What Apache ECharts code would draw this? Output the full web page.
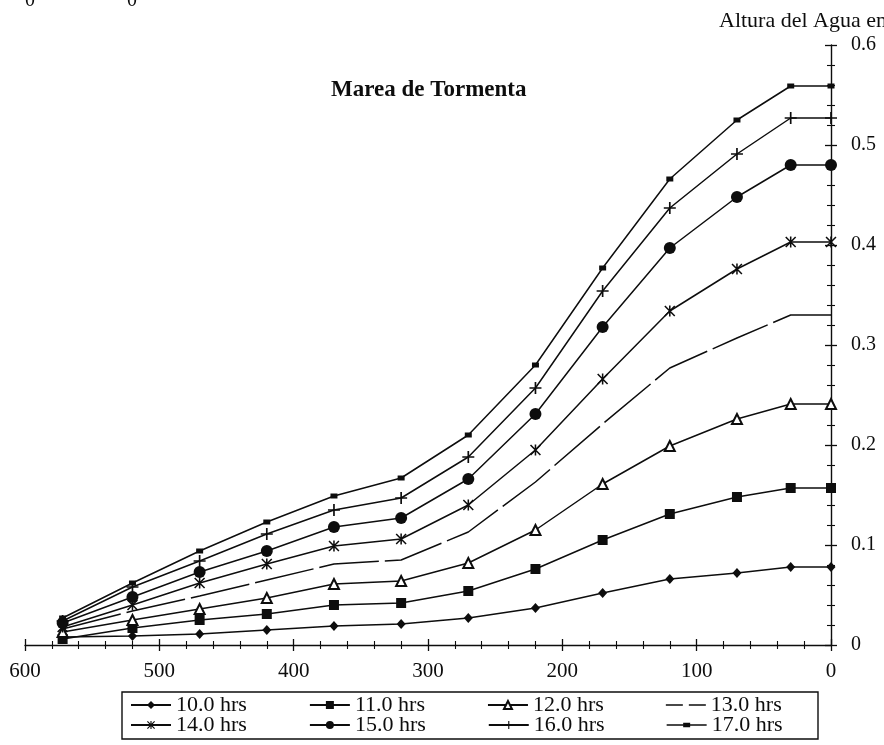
<!DOCTYPE html>
<html>
<head>
<meta charset="utf-8">
<script src="https://cdn.jsdelivr.net/npm/echarts@6/dist/echarts.min.js"></script>
<style>
  html, body { margin: 0; padding: 0; background: #fff; }
  #chart { width: 884px; height: 745px; }
</style>
</head>
<body>
<div id="chart"></div>
<script>
// distancia (eje x, invertido) y altura del agua por hora
const distances = [572, 520, 470, 420, 370, 320, 270, 220, 170, 120, 70, 30, 0]
const hours = ['10.0 hrs', '11.0 hrs', '12.0 hrs', '13.0 hrs', '14.0 hrs', '15.0 hrs', '16.0 hrs', '17.0 hrs']
const h10 = [0.008, 0.009, 0.011, 0.015, 0.019, 0.021, 0.027, 0.037, 0.052, 0.066, 0.072, 0.078, 0.078]
const h11 = [0.006, 0.017, 0.025, 0.031, 0.040, 0.042, 0.054, 0.076, 0.105, 0.131, 0.148, 0.157, 0.157]
const h12 = [0.013, 0.025, 0.036, 0.047, 0.061, 0.064, 0.082, 0.115, 0.161, 0.199, 0.226, 0.241, 0.241]
const h13 = [0.016, 0.034, 0.049, 0.065, 0.081, 0.085, 0.113, 0.163, 0.221, 0.277, 0.307, 0.330, 0.330]
const h14 = [0.018, 0.040, 0.062, 0.081, 0.099, 0.106, 0.140, 0.195, 0.266, 0.334, 0.376, 0.403, 0.403]
const h15 = [0.022, 0.048, 0.073, 0.094, 0.118, 0.127, 0.166, 0.231, 0.318, 0.397, 0.448, 0.480, 0.480]
const h16 = [0.024, 0.058, 0.084, 0.111, 0.135, 0.147, 0.188, 0.257, 0.354, 0.437, 0.491, 0.527, 0.527]
const h17 = [0.027, 0.062, 0.094, 0.123, 0.149, 0.167, 0.210, 0.280, 0.377, 0.466, 0.525, 0.559, 0.559]
const xTicks = [0, 100, 200, 300, 400, 500, 600]
const yTicks = [0, 0.1, 0.2, 0.3, 0.4, 0.5, 0.6]

const FONT = '"Liberation Serif", "Times New Roman", serif'
const INK = '#0d0d0d'

const plusPath = 'path://M4.3,0H5.7V4.3H10V5.7H5.7V10H4.3V5.7H0V4.3H4.3Z'
const starPath = 'path://M4.3,0H5.7V10H4.3Z M0,1L1,0L10,9L9,10Z M9,0L10,1L1,10L0,9Z'

const markers = [
  { symbol: 'diamond', size: [9, 10] },
  { symbol: 'rect', size: 10 },
  { symbol: 'emptyTriangle', size: 10 },
  { symbol: 'none', size: 0 },
  { symbol: starPath, size: 11 },
  { symbol: 'circle', size: 12 },
  { symbol: plusPath, size: 12 },
  { symbol: 'rect', size: [7, 5] }
]
const values = [h10, h11, h12, h13, h14, h15, h16, h17]

const series = hours.map((name, i) => ({
  name: name,
  type: 'line',
  data: distances.map((d, k) => [d, values[i][k]]),
  symbol: markers[i].symbol,
  symbolSize: markers[i].size,
  showSymbol: markers[i].symbol !== 'none',
  lineStyle: { color: INK, width: 1.5, type: i === 3 ? [60, 6] : 'solid' },
  itemStyle: { color: INK, borderColor: INK, borderWidth: i === 2 ? 1.3 : 0 },
  emphasis: { disabled: true }
}))

function legendItems(names) {
  return names.map(n => {
    if (n === '13.0 hrs') return { name: n, icon: 'path://M0,4.3H17V5.7H0Z M23,4.3H40V5.7H23Z' }
    if (n === '17.0 hrs') return { name: n, icon: 'path://M0,4.3H16.5V5.7H0Z M16.5,2.8H23.5V7.2H16.5Z M23.5,4.3H40V5.7H23.5Z' }
    return { name: n }
  })
}

const legendBase = {
  orient: 'horizontal',
  left: 130,
  padding: 0,
  itemWidth: 40,
  itemHeight: 10,
  itemGap: 62,
  selectedMode: false,
  textStyle: { fontFamily: FONT, fontSize: 22, color: INK }
}

const chart = echarts.init(document.getElementById('chart'))
chart.setOption({
  animation: false,
  backgroundColor: '#fff',
  title: [
    {
      text: 'Marea de Tormenta',
      left: 326, top: 74,
      textStyle: { fontFamily: FONT, fontSize: 23, fontWeight: 'bold', color: INK }
    },
    {
      text: 'Altura del Agua en',
      left: 714, top: 5,
      textStyle: { fontFamily: FONT, fontSize: 22, fontWeight: 'normal', color: INK }
    }
  ],
  graphic: [
    { type: 'text', left: 25, top: -9, style: { text: '0', font: '20px ' + FONT, fill: INK } },
    { type: 'text', left: 127, top: -9, style: { text: '0', font: '20px ' + FONT, fill: INK } },
    { type: 'rect', shape: { x: 122, y: 692, width: 696, height: 47 },
      style: { fill: 'none', stroke: INK, lineWidth: 1.4 } }
  ],
  legend: [
    Object.assign({}, legendBase, { top: 694, data: legendItems(hours.slice(0, 4)) }),
    Object.assign({}, legendBase, { top: 714, data: legendItems(hours.slice(4)) })
  ],
  grid: { left: 25, right: 53, top: 45, bottom: 100 },
  xAxis: [
    {
      type: 'value', min: 0, max: 600, interval: 100, inverse: true, position: 'bottom',
      axisLine: { onZero: false, lineStyle: { color: INK, width: 1.4 } },
      axisTick: { length: 6, lineStyle: { color: INK, width: 1.3 } },
      minorTick: { show: true, splitNumber: 5, length: 4, lineStyle: { color: INK, width: 1.1 } },
      axisLabel: {
        margin: 16, fontFamily: FONT, fontSize: 21, color: INK,
        formatter: v => xTicks.includes(v) ? String(v) : ''
      },
      splitLine: { show: false }
    },
    {
      type: 'value', min: 0, max: 600, interval: 100, inverse: true, position: 'bottom',
      axisLine: { show: false, onZero: false },
      axisTick: { inside: true, length: 6, lineStyle: { color: INK, width: 1.3 } },
      minorTick: { show: true, splitNumber: 5, length: 4, lineStyle: { color: INK, width: 1.1 } },
      axisLabel: { show: false },
      splitLine: { show: false }
    }
  ],
  yAxis: [
    {
      type: 'value', min: 0, max: 0.6, interval: 0.1, position: 'right',
      axisLine: { show: true, onZero: false, lineStyle: { color: INK, width: 1.4 } },
      axisTick: { show: true, length: 6, lineStyle: { color: INK, width: 1.3 } },
      minorTick: { show: true, splitNumber: 5, length: 4, lineStyle: { color: INK, width: 1.1 } },
      axisLabel: {
        margin: 20, fontFamily: FONT, fontSize: 20, color: INK,
        formatter: v => {
          const t = yTicks.find(y => Math.abs(y - v) < 1e-6)
          return t === undefined ? '' : String(t)
        }
      },
      splitLine: { show: false }
    },
    {
      type: 'value', min: 0, max: 0.6, interval: 0.1, position: 'right',
      axisLine: { show: false, onZero: false },
      axisTick: { show: true, inside: true, length: 6, lineStyle: { color: INK, width: 1.3 } },
      minorTick: { show: true, splitNumber: 5, length: 4, lineStyle: { color: INK, width: 1.1 } },
      axisLabel: { show: false },
      splitLine: { show: false }
    }
  ],
  series: series
})
</script>
</body>
</html>
